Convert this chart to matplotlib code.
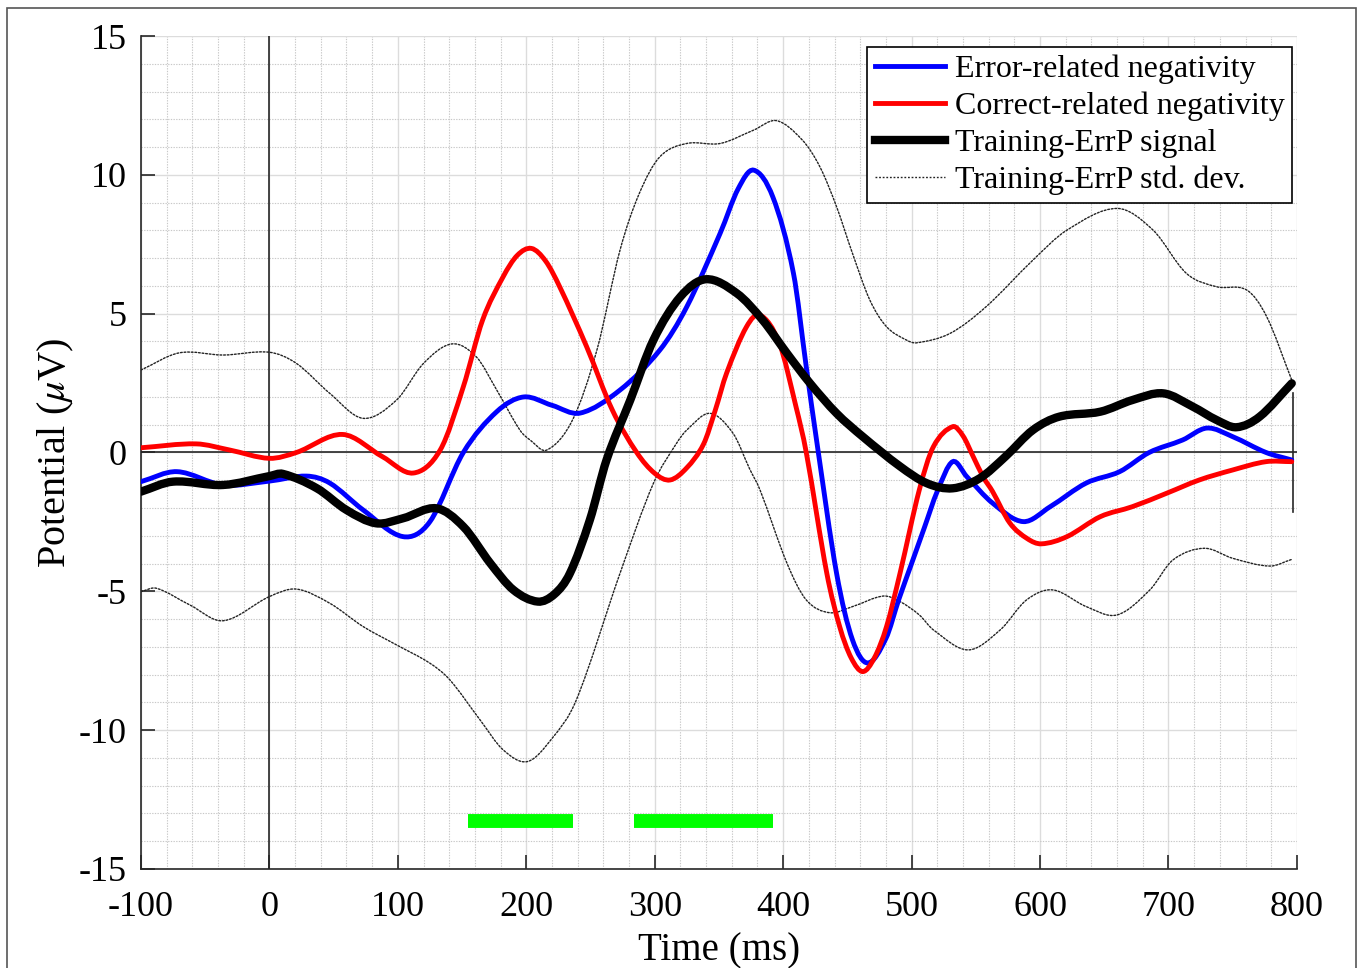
import matplotlib
matplotlib.use("Agg")
import matplotlib.pyplot as plt
import numpy as np
from matplotlib.patches import Rectangle, PathPatch
from matplotlib.path import Path

plt.rcParams['font.family'] = ['Liberation Serif', 'DejaVu Serif']
plt.rcParams['mathtext.fontset'] = 'stix'
plt.rcParams['axes.unicode_minus'] = False

# values (time in ms, potential in uV)
t_ern = [-100, -72, -36, 0, 29, 47, 73, 104, 125, 151, 177, 198, 220, 242, 273, 304, 325, 351,
         365, 377, 392, 408, 418, 426, 441.6, 454, 466, 480, 490, 500, 510, 520, 532, 543, 563,
         587, 608, 636, 662, 685, 711, 730, 750, 776, 796]
v_ern = [-1.05, -0.69, -1.17, -1.03, -0.85, -1.1, -2.07, -3.03, -2.49, 0.0, 1.47, 2.0, 1.7, 1.42,
         2.25, 3.69, 5.25, 7.9, 9.5, 10.17, 9.2, 6.46, 3.08, 0.45, -4.35, -6.75, -7.58, -6.7,
         -5.3, -4.0, -2.7, -1.4, -0.33, -0.87, -1.82, -2.49, -1.95, -1.1, -0.69, 0.0, 0.45,
         0.88, 0.57, 0.0, -0.27]

t_crn = [-100, -57, -31, 0, 21, 57, 88, 112, 133, 151, 166, 182, 193, 204, 215, 226, 247, 267,
         286, 300, 312, 325, 338, 347, 356, 371.5, 382, 397, 410, 418, 434, 444, 453, 462, 471,
         480.5, 491, 506, 517, 532, 540, 548, 556, 563, 576.5, 590, 601, 621, 647, 672, 699,
         724, 750, 776, 796]
v_crn = [0.17, 0.31, 0.09, -0.21, 0.0, 0.65, -0.15, -0.74, 0.09, 2.37, 4.77, 6.33, 7.1, 7.35,
         6.9, 5.97, 3.81, 1.53, 0.0, -0.75, -0.99, -0.55, 0.3, 1.5, 2.86, 4.53, 4.95, 3.94, 1.65,
         0.0, -4.35, -6.27, -7.4, -7.89, -7.4, -6.27, -4.35, -1.35, 0.21, 0.93, 0.6, -0.15,
         -0.9, -1.4, -2.54, -3.1, -3.29, -3.03, -2.31, -1.95, -1.46, -0.99, -0.63, -0.33, -0.33]

t_sig = [-100, -75, -36, 0, 10.5, 37, 60, 83, 104, 130, 151, 172, 190, 209, 222, 234, 249.5,
         262.5, 281, 299, 320, 340, 364, 384, 403, 421, 441.6, 462, 491, 512, 532, 553, 573,
         594.5, 615, 647, 672, 696, 719, 737.5, 753, 771, 796]
v_sig = [-1.41, -1.05, -1.17, -0.85, -0.77, -1.29, -2.07, -2.55, -2.37, -2.01, -2.67, -3.99,
         -4.95, -5.37, -5.1, -4.35, -2.43, -0.27, 1.89, 4.05, 5.61, 6.24, 5.73, 4.77, 3.57,
         2.49, 1.41, 0.57, -0.5, -1.11, -1.29, -0.93, -0.15, 0.81, 1.29, 1.47, 1.89, 2.13,
         1.65, 1.17, 0.91, 1.29, 2.49]

t_up = [-100, -70, -36, 0, 21, 47, 73, 99, 120, 142, 161, 177, 195, 203, 216, 236, 255, 273,
        288, 304, 325, 351, 377, 395, 415, 428.6, 441.6, 454, 467.5, 480.5, 496, 504, 530, 558,
        594.5, 621, 660, 688, 714, 737.5, 761, 776.5, 796]
v_up = [2.97, 3.59, 3.51, 3.61, 3.21, 2.13, 1.23, 1.89, 3.21, 3.91, 3.45, 2.25, 0.81, 0.45,
        0.09, 1.17, 3.69, 7.29, 9.33, 10.65, 11.13, 11.13, 11.61, 11.95, 11.25, 10.29, 8.85,
        7.17, 5.49, 4.53, 4.05, 3.95, 4.29, 5.25, 6.93, 8.01, 8.79, 8.01, 6.45, 5.97, 5.85,
        4.89, 2.61]

t_lo = [-100, -88, -62, -36, 0, 21, 47, 73, 99, 125, 140.5, 164, 182, 201, 220, 239, 273, 299,
        317, 325, 343, 361, 374, 382, 403, 418, 436, 454, 478, 491, 506, 517, 544, 569, 589.5,
        610, 636, 660, 685.5, 703.5, 728, 750, 779, 796]
v_lo = [-5.01, -4.89, -5.49, -6.06, -5.19, -4.92, -5.43, -6.27, -6.93, -7.59, -8.19, -9.63,
        -10.71, -11.13, -10.3, -8.91, -4.35, -1.11, 0.33, 0.81, 1.41, 0.69, -0.6, -1.35, -3.99,
        -5.31, -5.77, -5.55, -5.17, -5.37, -5.85, -6.39, -7.11, -6.39, -5.31, -4.95, -5.55,
        -5.85, -4.95, -3.87, -3.45, -3.81, -4.09, -3.85]

# significant intervals (ms)
sig_start = [155, 284]
sig_end = [236, 392]
sig_level = -13.27

labels = ['Error-related negativity', 'Correct-related negativity',
          'Training-ErrP signal', 'Training-ErrP std. dev.']


def smooth_path(t, v):
    # bezier path through the read points (rendering only)
    t = np.asarray(t, float)
    v = np.asarray(v, float)
    n = len(t)
    dv = np.zeros(n)
    dv[0] = (v[1] - v[0]) / (t[1] - t[0])
    dv[-1] = (v[-1] - v[-2]) / (t[-1] - t[-2])
    for i in range(1, n - 1):
        dv[i] = (v[i + 1] - v[i - 1]) / (t[i + 1] - t[i - 1])
    verts = [(t[0], v[0])]
    codes = [Path.MOVETO]
    for i in range(n - 1):
        h = (t[i + 1] - t[i]) / 3
        verts += [(t[i] + h, v[i] + dv[i] * h), (t[i + 1] - h, v[i + 1] - dv[i + 1] * h),
                  (t[i + 1], v[i + 1])]
        codes += [Path.CURVE4] * 3
    return Path(verts, codes)


def draw(ax, t, v, label=None, color='black', linewidth=1.0, linestyle='-', zorder=3):
    ax.add_patch(PathPatch(smooth_path(t, v), fill=False, capstyle='round', edgecolor=color,
                           linewidth=linewidth, linestyle=linestyle, zorder=zorder))
    if label:
        ax.plot([], [], label=label, color=color, linewidth=linewidth, linestyle=linestyle)


fig = plt.figure(figsize=(13.58, 9.68), dpi=100)
ax = fig.add_axes([0.1038, 0.1023, 0.8512, 0.8605])

# frame around figure
fig.patches.append(Rectangle((7 / 1358, -0.01), 1349 / 1358, 1 - 8 / 968 + 0.01,
                             transform=fig.transFigure, fill=False,
                             edgecolor='#555555', linewidth=1.2))

ax.set_xlim(-100, 800)
ax.set_ylim(-15, 15)
ax.set_xticks(range(-100, 801, 100))
ax.set_yticks(range(-15, 16, 5))
ax.set_xticks(range(-100, 801, 20), minor=True)
ax.set_yticks(range(-15, 16, 1), minor=True)
ax.grid(which='major', color='#dcdcdc', linestyle='-', linewidth=1.0)
ax.grid(which='minor', color='#c8c8c8', linestyle=(0, (1.2, 1.2)), linewidth=0.8)
ax.set_axisbelow(True)
for s in ['top', 'right']:
    ax.spines[s].set_visible(False)
for s in ['left', 'bottom']:
    ax.spines[s].set_color('#262626')
    ax.spines[s].set_linewidth(1.2)
ax.tick_params(which='major', direction='in', length=10, width=1.2, labelsize=26,
               color='#262626')
ax.tick_params(axis='x', pad=16)
ax.tick_params(axis='y', pad=10)
ax.tick_params(which='minor', length=0)

ax.axvline(0, color='#262626', linewidth=1.2, zorder=1.5)
ax.axhline(0, color='#262626', linewidth=1.2, zorder=1.5)
ax.plot([797, 797], [2.14, -2.14], color='#262626', linewidth=1.2)

draw(ax, t_ern, v_ern, labels[0], color='#0000ff', linewidth=3.5, zorder=3)
draw(ax, t_crn, v_crn, labels[1], color='#ff0000', linewidth=3.5, zorder=3.1)
draw(ax, t_sig, v_sig, labels[2], color='black', linewidth=6, zorder=3.2)
draw(ax, t_up, v_up, labels[3], color='#222222', linewidth=1.0,
     linestyle=(0, (1.3, 1.3)), zorder=2.5)
draw(ax, t_lo, v_lo, None, color='#222222', linewidth=1.0,
     linestyle=(0, (1.3, 1.3)), zorder=2.5)

for a, b in zip(sig_start, sig_end):
    ax.plot([a, b], [sig_level, sig_level], color='#00ff00', linewidth=10,
            solid_capstyle='butt', zorder=3)

ax.set_xlabel('Time (ms)', fontsize=28, labelpad=6)
ax.set_ylabel(r'Potential ($\mu$V)', fontsize=29, labelpad=2)

leg = ax.legend(loc='upper right', bbox_to_anchor=(0.996, 0.987), fontsize=23, frameon=True,
                fancybox=False, framealpha=1, edgecolor='black', handlelength=2.2,
                handletextpad=0.3, borderpad=0.24, labelspacing=0.24, borderaxespad=0)
leg.get_frame().set_linewidth(1.2)

fig.savefig('out.png', dpi=100)
